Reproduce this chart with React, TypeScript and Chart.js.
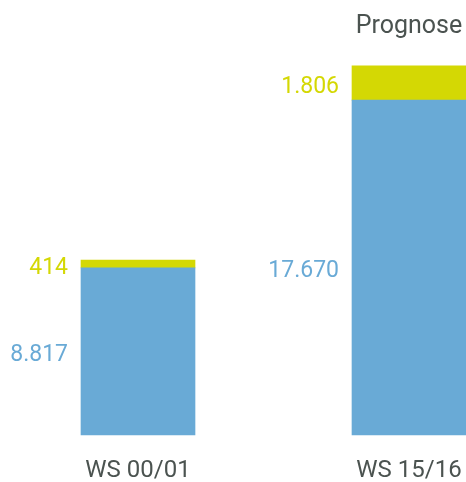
import React, { useEffect, useRef } from "react";
import { Chart, registerables } from "chart.js";

Chart.register(...registerables);

const categories = ["WS 00/01", "WS 15/16"];
const baseValues = [8817, 17670];
const topValues = [414, 1806];
const baseLabels = ["8.817", "17.670"];
const topLabels = ["414", "1.806"];
const forecastNote = "Prognose";

const BLUE = "#69aad6";
const YELLOW = "#d4d804";
const GRAY = "#4b5350";
const FONT = "'Roboto Slab', Roboto, sans-serif";

const valueLabelPlugin = {
  id: "valueLabels",
  afterDatasetsDraw(chart: any) {
    const ctx = chart.ctx;
    ctx.save();
    ctx.font = `23px ${FONT}`;
    ctx.textAlign = "right";
    ctx.textBaseline = "middle";
    const labelSets = [baseLabels, topLabels];
    chart.data.datasets.forEach((ds: any, di: number) => {
      const meta = chart.getDatasetMeta(di);
      meta.data.forEach((bar: any, i: number) => {
        const left = bar.x - bar.width / 2;
        const yMid = (bar.y + bar.base) / 2;
        ctx.fillStyle = ds.backgroundColor;
        ctx.fillText(labelSets[di][i], left - 13, yMid + 4);
      });
    });
    const lastMeta = chart.getDatasetMeta(1);
    const lastBar = lastMeta.data[lastMeta.data.length - 1];
    ctx.font = `25px ${FONT}`;
    ctx.textAlign = "center";
    ctx.fillStyle = GRAY;
    ctx.fillText(forecastNote, lastBar.x, 27);
    ctx.restore();
  },
};

export default function App() {
  const ref = useRef<HTMLCanvasElement | null>(null);
  useEffect(() => {
    if (!ref.current) return;
    const chart = new Chart(ref.current, {
      type: "bar",
      data: {
        labels: categories,
        datasets: [
          {
            label: "base",
            data: baseValues,
            backgroundColor: BLUE,
            borderWidth: 0,
            barThickness: 114,
            clip: false,
          },
          {
            label: "top",
            data: topValues,
            backgroundColor: YELLOW,
            borderWidth: 0,
            barThickness: 114,
            clip: false,
          },
        ],
      },
      options: {
        animation: false,
        responsive: false,
        maintainAspectRatio: false,
        layout: { padding: { left: 138, right: 57, top: 56, bottom: 0 } },
        plugins: {
          legend: { display: false },
          tooltip: { enabled: false },
        },
        scales: {
          x: {
            stacked: true,
            offset: false,
            grid: { display: false, drawTicks: false },
            border: { display: false },
            ticks: {
              color: GRAY,
              padding: 24,
              font: { family: FONT, size: 24, lineHeight: 1 },
              maxRotation: 0,
              autoSkip: false,
            },
            afterFit(scale: any) {
              scale.paddingLeft = 0;
              scale.paddingRight = 0;
              scale.height = 47;
            },
          },
          y: {
            stacked: true,
            display: false,
            min: 0,
            max: 20000,
          },
        },
      },
      plugins: [valueLabelPlugin],
    });
    return () => chart.destroy();
  }, []);
  return (
    <div style={{ position: "fixed", left: 0, top: 0, width: 466, height: 482, background: "#fff" }}>
      <canvas ref={ref} width={466} height={482} style={{ width: 466, height: 482 }} />
    </div>
  );
}
